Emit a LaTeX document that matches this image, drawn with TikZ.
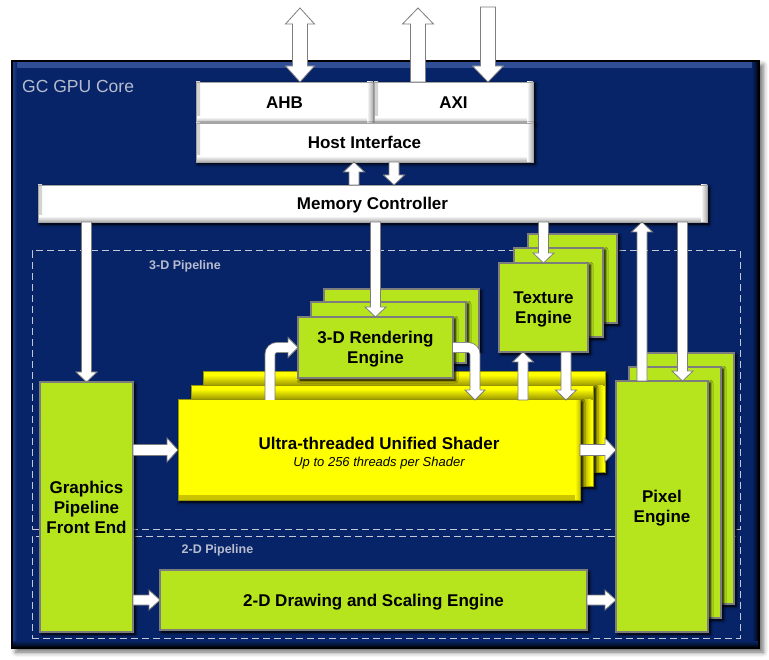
\documentclass[tikz,border=0pt]{standalone}
\usepackage{fontspec}
\setmainfont{Liberation Sans}
\usetikzlibrary{calc,shadows.blur}

\definecolor{navy}{RGB}{8,36,104}
\definecolor{navyhi}{RGB}{48,78,150}
\definecolor{lime}{RGB}{182,229,29}
\definecolor{ylw}{RGB}{255,255,0}
\definecolor{ylwedge}{RGB}{150,150,0}
\definecolor{ylwbev}{RGB}{200,195,0}
\definecolor{ylwdark}{RGB}{150,145,0}
\definecolor{edgegray}{RGB}{125,125,125}
\definecolor{dashgray}{RGB}{195,200,212}
\definecolor{labelgray}{RGB}{182,188,206}

\tikzset{
  glow/.style={blur shadow={shadow xshift=3pt, shadow yshift=-3pt, shadow blur radius=8pt, shadow opacity=100},
               blur shadow={shadow xshift=2pt, shadow yshift=-2pt, shadow blur radius=3pt, shadow opacity=70}},
  basebox/.style={rectangle, inner sep=0pt, outer sep=0pt, align=center, text=black, text depth=0pt,
    font=\fontsize{17}{20}\selectfont\bfseries},
  greenbox/.style={basebox, glow, fill=lime, draw=edgegray, line width=1.2pt},
  whitebox/.style={basebox, glow, fill=white, draw=edgegray!70, line width=0.8pt,
    path picture={
      \shade[left color=gray!35, right color=white] (path picture bounding box.north west) rectangle ([xshift=4pt]path picture bounding box.south west);
      \shade[top color=white, bottom color=gray!65] ([yshift=6pt]path picture bounding box.south west) rectangle (path picture bounding box.south east);
      \shade[left color=white, right color=gray!65] ([xshift=-6pt]path picture bounding box.north east) rectangle (path picture bounding box.south east);
    }},
  yfront/.style={basebox, glow, fill=ylw, draw=ylwedge, line width=1pt,
    path picture={
      \shade[top color=ylw, bottom color=ylwbev] ([yshift=5pt]path picture bounding box.south west) rectangle (path picture bounding box.south east);
      \shade[left color=ylw, right color=ylwbev] ([xshift=-5pt]path picture bounding box.north east) rectangle (path picture bounding box.south east);
    }},
  yback/.style={basebox, glow, fill=ylw, draw=ylwedge, line width=1pt,
    path picture={
      \fill[ylwdark] (path picture bounding box.south west) rectangle ([yshift=-14pt]path picture bounding box.north east);
      \shade[top color=ylw, bottom color=ylwdark] ([yshift=-3pt]path picture bounding box.north west) rectangle ([yshift=-14pt]path picture bounding box.north east);
      \shade[left color=ylwdark, right color=ylw] ([xshift=-12pt,yshift=-14pt]path picture bounding box.north east) rectangle ([xshift=-2pt]path picture bounding box.south east);
      \fill[ylw] ([xshift=-2pt,yshift=-14pt]path picture bounding box.north east) rectangle (path picture bounding box.south east);
    }},
  panel/.style={rectangle, inner sep=0pt, outer sep=0pt, fill=navy, draw=black, line width=1.5pt,
    blur shadow={shadow xshift=4pt, shadow yshift=-4pt, shadow blur radius=5pt, shadow opacity=60},
    path picture={
      \shade[top color=navyhi, bottom color=navy] (path picture bounding box.north west) rectangle ([yshift=-7pt]path picture bounding box.north east);
      \shade[left color=navyhi!70!navy, right color=navy] (path picture bounding box.north west) rectangle ([xshift=5pt]path picture bounding box.south west);
      \shade[left color=navy, right color=black] ([xshift=-7pt]path picture bounding box.north east) rectangle (path picture bounding box.south east);
      \shade[top color=navy, bottom color=black] ([yshift=7pt]path picture bounding box.south west) rectangle (path picture bounding box.south east);
    }},
  dashbox/.style={rectangle, inner sep=0pt, outer sep=0pt, draw=dashgray, dash pattern=on 7pt off 4pt, line width=1pt},
  corelabel/.style={text=labelgray, font=\fontsize{17.5}{20}\selectfont, anchor=west, inner sep=0pt},
  pipelabel/.style={text=labelgray, font=\fontsize{12.5}{14}\selectfont\bfseries, inner sep=0pt},
  arrowfill/.style={fill=white, draw=edgegray, line width=0.8pt, line join=miter},
  shaftout/.style={draw=edgegray, line width=10.8pt, rounded corners=7pt},
  shaftin/.style={draw=white, line width=9.2pt, rounded corners=7pt},
}

% straight block arrow: start, tip, shaft half width, head half width, head length
\newcommand\barrow[5]{%
  \coordinate (bC) at ($(#2)!#5!(#1)$);
  \filldraw[arrowfill] ($(#1)!#3!90:(#2)$) -- ($(bC)!#3!90:(#2)$) -- ($(bC)!#4!90:(#2)$) -- (#2)
    -- ($(bC)!#4!-90:(#2)$) -- ($(bC)!#3!-90:(#2)$) -- ($(#1)!#3!-90:(#2)$) -- cycle;}
% double headed block arrow
\newcommand\dbarrow[5]{%
  \coordinate (dCa) at ($(#1)!#5!(#2)$);
  \coordinate (dCb) at ($(#2)!#5!(#1)$);
  \filldraw[arrowfill] (#1) -- ($(dCa)!#4!90:(#2)$) -- ($(dCa)!#3!90:(#2)$) -- ($(dCb)!#3!90:(#2)$)
    -- ($(dCb)!#4!90:(#2)$) -- (#2) -- ($(dCb)!#4!-90:(#2)$) -- ($(dCb)!#3!-90:(#2)$)
    -- ($(dCa)!#3!-90:(#2)$) -- ($(dCa)!#4!-90:(#2)$) -- cycle;}
% arrow head only: base centre, tip, shaft half width, head half width
\newcommand\ahead[4]{%
  \fill[white] ($(#1)!#3!90:(#2)$) -- ($(#1)!#4!90:(#2)$) -- (#2) -- ($(#1)!#4!-90:(#2)$) -- ($(#1)!#3!-90:(#2)$) -- cycle;
  \draw[arrowfill, fill=none] ($(#1)!#3!90:(#2)$) -- ($(#1)!#4!90:(#2)$) -- (#2) -- ($(#1)!#4!-90:(#2)$) -- ($(#1)!#3!-90:(#2)$);}

\begin{document}
\begin{tikzpicture}[x=1pt, y=-1pt]
\useasboundingbox (0,0) rectangle (769,660);

% core panel
\node[panel, minimum width=747pt, minimum height=587pt] (core) at (385.5,354.5) {};
\node[corelabel] (corename) at (22,86) {GC GPU Core};

% pipelines
\node[dashbox, minimum width=708pt, minimum height=278pt] (p3d) at (386,390) {};
\node[dashbox, minimum width=708pt, minimum height=102pt] (p2d) at (386,587) {};
\node[pipelabel] (l3d) at (185,266) {3-D Pipeline};
\node[pipelabel] (l2d) at (217.5,550) {2-D Pipeline};

% host side
\node[whitebox, minimum width=177pt, minimum height=41pt] (ahb) at (284.5,102.5) {AHB};
\node[whitebox, minimum width=159pt, minimum height=41pt] (axi) at (453.5,102.5) {AXI};
\node[whitebox, minimum width=337pt, minimum height=39pt] (host) at (364.5,142.5) {Host Interface};
\node[whitebox, minimum width=669pt, minimum height=37pt] (mem) at (372.5,203.5) {Memory Controller};

% front end
\node[greenbox, minimum width=93pt, minimum height=250pt] (gpfe) at (86.5,507) {Graphics\\Pipeline\\Front End};

% shader stack
\node[yback, minimum width=402pt, minimum height=100pt] (shaderb) at (404,422) {};
\node[yback, minimum width=402pt, minimum height=100pt] (shaderm) at (392,436) {};
\node[yfront, minimum width=402pt, minimum height=100pt] (shader) at (379,450) {};
\node[basebox] (shadertitle) at (379,443.5) {Ultra-threaded Unified Shader};
\node[basebox, font=\fontsize{13}{15}\selectfont\itshape] (shadersub) at (379,461.5) {Up to 256 threads per Shader};

% 3-D rendering stack
\node[greenbox, minimum width=155pt, minimum height=61pt] (r3db) at (401.5,319.5) {};
\node[greenbox, minimum width=155pt, minimum height=61pt] (r3dm) at (388.5,332.5) {};
\node[greenbox, minimum width=155pt, minimum height=61pt] (r3d) at (375.5,347.5) {3-D Rendering\\Engine};

% texture stack
\node[greenbox, minimum width=89pt, minimum height=89pt] (texb) at (572.5,278.5) {};
\node[greenbox, minimum width=89pt, minimum height=89pt] (texm) at (558.5,292.5) {};
\node[greenbox, minimum width=89pt, minimum height=89pt] (tex) at (543.5,307.5) {Texture\\Engine};

% pixel stack
\node[greenbox, minimum width=92pt, minimum height=251pt] (pixb) at (688,478.5) {};
\node[greenbox, minimum width=92pt, minimum height=251pt] (pixm) at (675,492.5) {};
\node[greenbox, minimum width=92pt, minimum height=251pt] (pix) at (662,506.5) {Pixel\\Engine};

% 2-D engine
\node[greenbox, minimum width=427pt, minimum height=60pt] (twod) at (373.5,600) {2-D Drawing and Scaling Engine};

% ---- connectors ----
% external buses
\coordinate (ahbA) at ([xshift=15.5pt]ahb.north);
\coordinate (ahbF) at ([yshift=74pt]ahbA);
\dbarrow{ahbF}{ahbA}{7.5pt}{14.5pt}{16pt}
\coordinate (axiU) at ([xshift=-35.5pt]axi.north);
\coordinate (axiUF) at ([yshift=74pt]axiU);
\barrow{axiU}{axiUF}{7.5pt}{15.5pt}{16pt}
\coordinate (axiD) at ([xshift=34.5pt]axi.north);
\coordinate (axiDF) at ([yshift=75pt]axiD);
\barrow{axiDF}{axiD}{7.5pt}{15.5pt}{16pt}

% host <-> memory
\coordinate (hmU) at ([xshift=-18.5pt]mem.north);
\coordinate (hmUt) at (hmU |- host.south);
\barrow{hmU}{hmUt}{5pt}{10.5pt}{10pt}
\coordinate (hmD) at ([xshift=29.5pt]host.south);
\coordinate (hmDt) at (hmD |- mem.north);
\barrow{hmD}{hmDt}{5pt}{10.5pt}{10pt}

% memory to engines
\coordinate (mg) at (gpfe.north |- mem.south);
\barrow{mg}{gpfe.north}{5pt}{10.5pt}{10pt}
\coordinate (mr) at (r3d.north |- mem.south);
\barrow{mr}{r3d.north}{5pt}{10.5pt}{10pt}
\coordinate (mt) at (tex.north |- mem.south);
\barrow{mt}{tex.north}{5pt}{10.5pt}{10pt}
\coordinate (pu) at ([xshift=-20pt]pix.north);
\coordinate (put) at (pu |- mem.south);
\barrow{pu}{put}{5pt}{10.5pt}{10pt}
\coordinate (pd) at ([xshift=20.5pt]pix.north);
\coordinate (pds) at (pd |- mem.south);
\barrow{pds}{pd}{5pt}{10.5pt}{10pt}

% shader <-> texture
\coordinate (tu) at ([xshift=-20.5pt]tex.south);
\coordinate (tus) at (tu |- shader.north);
\barrow{tus}{tu}{5pt}{10.5pt}{10pt}
\coordinate (td) at ([xshift=22.5pt]tex.south);
\coordinate (tdt) at (td |- shader.north);
\barrow{td}{tdt}{5pt}{10.5pt}{10pt}

% horizontal flows
\coordinate (gs) at (gpfe.east |- shader.west);
\barrow{gs}{shader.west}{5.5pt}{12pt}{11pt}
\coordinate (g2) at (gpfe.east |- twod.west);
\barrow{g2}{twod.west}{5pt}{10pt}{11pt}
\coordinate (sp) at (pix.west |- shader.east);
\barrow{shader.east}{sp}{5.5pt}{12pt}{11pt}
\coordinate (tp) at (pix.west |- twod.east);
\barrow{twod.east}{tp}{5pt}{10pt}{11pt}

% shader <-> 3-D rendering (elbows)
\coordinate (e1s) at ([xshift=-109pt]shader.north);
\coordinate (e1t) at (r3d.west);
\coordinate (e1c) at ([xshift=-10pt]e1t);
\draw[shaftout] (e1s) |- (e1c);
\draw[shaftin] (e1s) |- (e1c);
\ahead{e1c}{e1t}{5pt}{10pt}

\coordinate (e2s) at (r3d.east);
\coordinate (e2t) at ([xshift=96pt]shader.north);
\coordinate (e2c) at ([yshift=10pt]e2t);
\draw[shaftout] (e2s) -| (e2c);
\draw[shaftin] (e2s) -| (e2c);
\ahead{e2c}{e2t}{5pt}{10pt}
\end{tikzpicture}
\end{document}
